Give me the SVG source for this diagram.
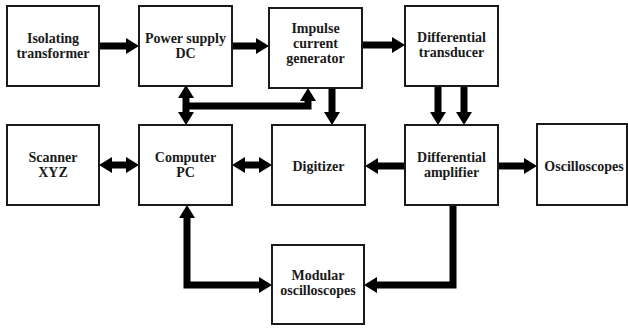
<svg xmlns="http://www.w3.org/2000/svg" width="628" height="329" viewBox="0 0 628 329">
  <style>
    .box { fill: #ffffff; stroke: #1a1a1a; stroke-width: 2; }
    .lbl { font-family: "Liberation Serif", "Times New Roman", serif; font-weight: bold; font-size: 14px; fill: #1a1a1a; text-anchor: middle; }
    .wire { fill: none; stroke: #000000; stroke-width: 7; stroke-linejoin: miter; }
    .one { marker-end: url(#head); }
    .two { marker-start: url(#head); marker-end: url(#head); }
  </style>
  <defs>
    <!-- filled arrowhead placed beyond the end of the shaft -->
    <marker id="head" markerUnits="userSpaceOnUse" markerWidth="14" markerHeight="16" viewBox="0 0 13 16" refX="0" refY="8" orient="auto-start-reverse">
      <path d="M0,0 L13,8 L0,16 Z" fill="#000000"/>
    </marker>
  </defs>
  <rect width="628" height="329" fill="#ffffff"/>

  <g id="connectors">
    <path class="wire one" d="M99,46 H126"/>
    <path class="wire one" d="M232,46 H256"/>
    <path class="wire one" d="M362,45 H392"/>
    <path class="wire two" d="M186,98 V112"/>
    <path class="wire one" d="M183,106 H308 V101"/>
    <path class="wire one" d="M332,88 V112"/>
    <path class="wire one" d="M438,86 V112"/>
    <path class="wire one" d="M464,86 V112"/>
    <path class="wire one" d="M405,166 H378"/>
    <path class="wire one" d="M498,166 H524"/>
    <path class="wire two" d="M112,165 H126"/>
    <path class="wire two" d="M245,165 H259"/>
    <path class="wire two" d="M187,218 V285 H259"/>
    <path class="wire one" d="M453,205 V285 H377"/>
  </g>

  <g id="isolating-transformer">
    <rect class="box" x="7" y="6" width="92" height="80"/>
    <text class="lbl" x="53" y="43">Isolating</text>
    <text class="lbl" x="53" y="58">transformer</text>
  </g>
  <g id="power-supply">
    <rect class="box" x="139" y="6" width="93" height="80"/>
    <text class="lbl" x="185.5" y="43">Power supply</text>
    <text class="lbl" x="185.5" y="58">DC</text>
  </g>
  <g id="impulse-generator">
    <rect class="box" x="269" y="8" width="93" height="80"/>
    <text class="lbl" x="315.5" y="33">Impulse</text>
    <text class="lbl" x="315.5" y="48">current</text>
    <text class="lbl" x="315.5" y="63">generator</text>
  </g>
  <g id="differential-transducer">
    <rect class="box" x="405" y="6" width="93" height="80"/>
    <text class="lbl" x="451.5" y="42">Differential</text>
    <text class="lbl" x="451.5" y="57">transducer</text>
  </g>
  <g id="scanner">
    <rect class="box" x="7" y="125" width="92" height="80"/>
    <text class="lbl" x="53" y="162">Scanner</text>
    <text class="lbl" x="53" y="177">XYZ</text>
  </g>
  <g id="computer">
    <rect class="box" x="139" y="125" width="93" height="80"/>
    <text class="lbl" x="185.5" y="162">Computer</text>
    <text class="lbl" x="185.5" y="177">PC</text>
  </g>
  <g id="digitizer">
    <rect class="box" x="272" y="125" width="93" height="80"/>
    <text class="lbl" x="318.5" y="171">Digitizer</text>
  </g>
  <g id="differential-amplifier">
    <rect class="box" x="405" y="125" width="93" height="80"/>
    <text class="lbl" x="451.5" y="162">Differential</text>
    <text class="lbl" x="451.5" y="177">amplifier</text>
  </g>
  <g id="oscilloscopes">
    <rect class="box" x="537" y="124" width="90" height="81"/>
    <text class="lbl" x="584" y="171">Oscilloscopes</text>
  </g>
  <g id="modular-oscilloscopes">
    <rect class="box" x="272" y="245" width="92" height="79"/>
    <text class="lbl" x="318" y="280">Modular</text>
    <text class="lbl" x="318" y="295">oscilloscopes</text>
  </g>
</svg>
